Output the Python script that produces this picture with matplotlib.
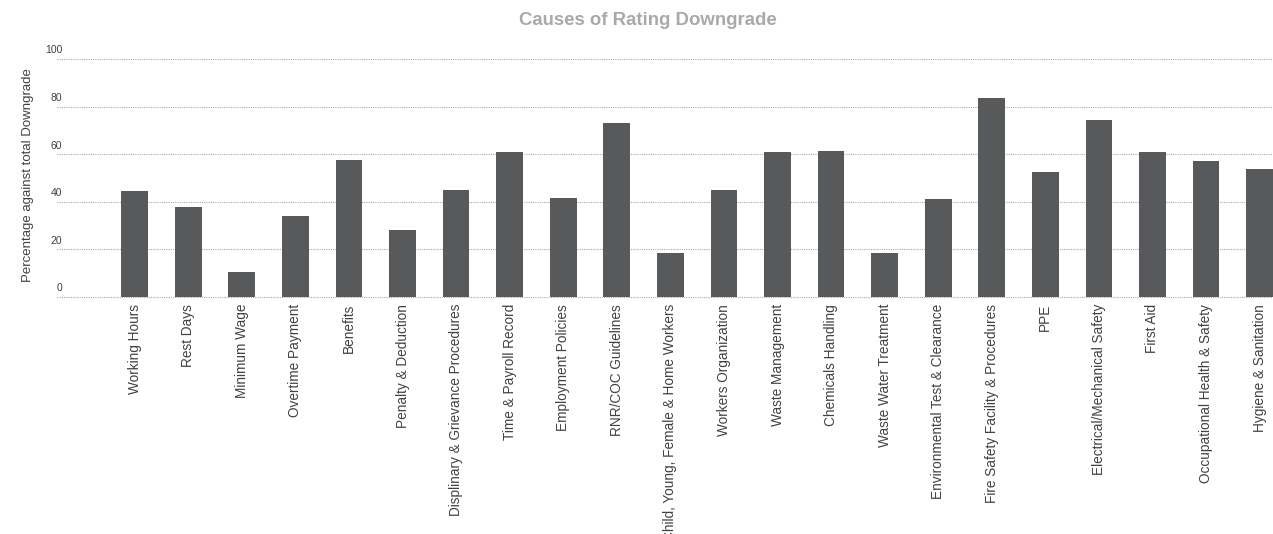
import matplotlib.pyplot as plt
import matplotlib.transforms as mtransforms

plt.rcParams['font.family'] = ['Liberation Sans', 'DejaVu Sans']

causes = [
    'Working Hours', 'Rest Days', 'Minimum Wage', 'Overtime Payment', 'Benefits',
    'Penalty & Deduction', 'Displinary & Grievance Procedures', 'Time & Payroll Record',
    'Employment Policies', 'RNR/COC Guidelines', 'Child, Young, Female & Home Workers',
    'Workers Organization', 'Waste Management', 'Chemicals Handling',
    'Waste Water Treatment', 'Environmental Test & Clearance',
    'Fire Safety Facility & Procedures', 'PPE', 'Electrical/Mechanical Safety',
    'First Aid', 'Occupational Health & Safety', 'Hygiene & Sanitation',
]
percentages = [
    44.5, 37.8, 10.6, 34.2, 57.5, 28.2, 45.0, 61.0, 41.6, 73.0, 18.5,
    45.0, 61.0, 61.3, 18.5, 41.2, 83.6, 52.5, 74.4, 61.0, 57.1, 53.8,
]
y_ticks = [0, 20, 40, 60, 80, 100]

fig = plt.figure(figsize=(12.73, 5.34), dpi=100)
ax = fig.add_axes([0.0448, 0.4438, 0.9552, 0.4502])

x = list(range(len(causes)))
ax.bar(x, percentages, width=0.5, color='#58595b', zorder=3)

ax.set_xlim(-1.45, 21.25)
ax.set_ylim(0, 101)

# dotted guide lines
for t in y_ticks:
    ax.axhline(t, color='#a7a9ac', linestyle=(0, (1, 1)), linewidth=0.8,
               zorder=1, clip_on=False)

# y labels sit just above each guide line
trans = mtransforms.blended_transform_factory(ax.transAxes, ax.transData)
for t in y_ticks:
    ax.text(0.0043, t + 3.6, str(t), transform=trans, ha='right', va='center',
            fontsize=7.5, color='#414042')

ax.set_yticks([])
ax.set_xticks(x)
ax.set_xticklabels(causes, rotation=90, fontsize=9.8, color='#414042', va='top')
ax.tick_params(axis='x', length=0, pad=5)
for s in ax.spines.values():
    s.set_visible(False)

fig.text(0.022, 0.672, 'Percentage against total Downgrade', rotation=90,
         ha='center', va='center', fontsize=9.5, color='#414042')
fig.text(0.509, 0.962, 'Causes of Rating Downgrade', ha='center', va='center',
         fontsize=13.4, fontweight='bold', color='#a7a9ac')

fig.savefig('out.png', dpi=100)
